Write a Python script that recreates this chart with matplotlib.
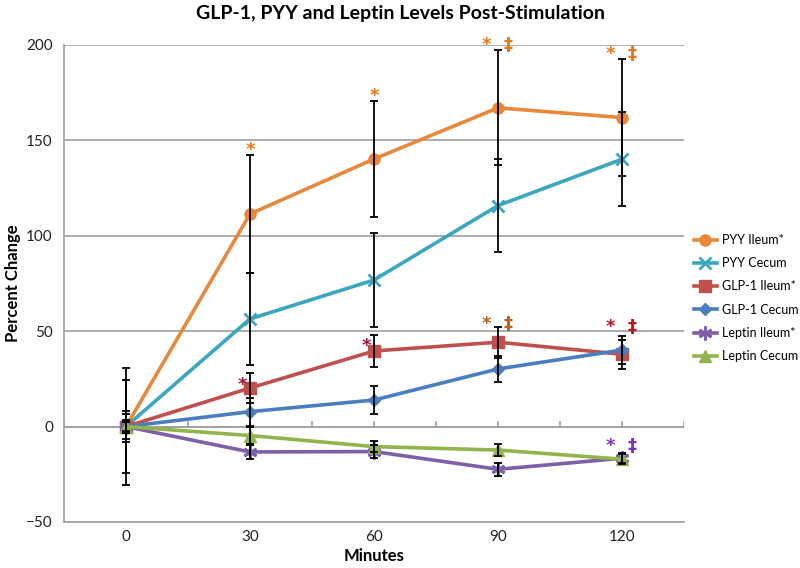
import numpy as np
import matplotlib
matplotlib.use("Agg")
import matplotlib.pyplot as plt

plt.rcParams['font.family'] = ['Lato', 'DejaVu Sans']

minutes = ['0', '30', '60', '90', '120']

pyy_ileum = [0, 111.4, 140.2, 167.0, 161.9]
pyy_ileum_err = [30.6, 31.0, 30.5, 30.2, 30.6]
pyy_cecum = [0, 56.4, 76.8, 115.8, 140.1]
pyy_cecum_err = [24.2, 24.2, 24.8, 24.4, 24.5]
glp_ileum = [0, 20.2, 39.6, 44.2, 37.9]
glp_ileum_err = [7.9, 8.1, 8.3, 8.2, 7.7]
glp_cecum = [0, 7.8, 13.9, 30.2, 40.1]
glp_cecum_err = [6.4, 7.4, 7.4, 7.0, 7.5]
lep_ileum = [0, -13.3, -13.1, -22.4, -16.6]
lep_ileum_err = [3.2, 3.7, 3.5, 3.4, 2.5]
lep_cecum = [0, -4.7, -10.5, -12.3, -17.1]
lep_cecum_err = [2.3, 4.5, 3.0, 3.2, 2.5]

series = [
    ('PYY Ileum*', pyy_ileum, pyy_ileum_err, '#E8883A', 'o', 8),
    ('PYY Cecum', pyy_cecum, pyy_cecum_err, '#3AA6C0', 'x', 8),
    ('GLP-1 Ileum*', glp_ileum, glp_ileum_err, '#C0504D', 's', 8),
    ('GLP-1 Cecum', glp_cecum, glp_cecum_err, '#4A7EBF', 'D', 6),
    ('Leptin Ileum*', lep_ileum, lep_ileum_err, '#7F5FA8', (6, 2, 0), 10),
    ('Leptin Cecum', lep_cecum, lep_cecum_err, '#92B44C', '^', 8),
]

# significance marks: (x index, y value, text, color)
marks = [
    (1, 145, '*', '#E8781A'),
    (2, 173, '*', '#E8781A'),
    (3, 200, '*  ‡', '#E8781A'),
    (4, 195, '*  ‡', '#E8781A'),
    (0.94, 22, '*', '#A0143C'),
    (1.94, 42, '*', '#A0143C'),
    (3, 54, '*  ‡', '#B8601E'),
    (4, 52, '*  ‡', '#B8141E'),
    (4, -10, '*  ‡', '#8030C0'),
]

fig = plt.figure(figsize=(8, 5.68), dpi=100)
ax = fig.add_axes([0.08, 0.081, 0.775, 0.84])
x = np.arange(len(minutes))

for name, vals, errs, col, mk, ms in series:
    ax.plot(x, vals, color=col, lw=2.6, marker=mk, ms=ms, mew=2 if mk in ('x', (6, 2, 0)) else 1,
            label=name, zorder=3)
    ax.errorbar(x, vals, yerr=errs, fmt='none', ecolor='black', elinewidth=1.3,
                capsize=3, capthick=1.3, zorder=4)

for xi, yv, txt, col in marks:
    ax.text(xi, yv, txt, color=col, fontsize=13, fontweight='bold', ha='center', va='center',
            family='DejaVu Sans')

ax.set_xlim(-0.5, 4.5)
ax.set_ylim(-50, 200)
ax.set_yticks(np.arange(-50, 201, 50))
ax.set_xticks(x)
ax.set_xticklabels(minutes)
ax.grid(axis='y', color='#a0a0a0', lw=1.2)
ax.set_axisbelow(True)
ax.tick_params(length=0, labelsize=11, colors='#222222')
ax.tick_params(axis='x', pad=6)
ax.tick_params(axis='y', pad=8)
for s in ['top', 'right']:
    ax.spines[s].set_visible(False)
for s in ['left', 'bottom']:
    ax.spines[s].set_color('#a0a0a0')
    ax.spines[s].set_linewidth(1.2)

# category axis at zero with small upward ticks
ax.axhline(0, color='#a0a0a0', lw=1.2, zorder=1)
for b in np.arange(-0.5, 4.6, 0.5):
    ax.plot([b, b], [0, 2.2], color='#a0a0a0', lw=1.2, zorder=1)

fig.text(374 / 800, 1 - 556 / 568, 'Minutes', fontsize=12, fontweight='bold', ha='center', va='center')
fig.text(13 / 800, 1 - 283 / 568, 'Percent Change', fontsize=12, fontweight='bold', ha='center',
         va='center', rotation=90)
fig.text(0.5, 1 - 13 / 568, 'GLP-1, PYY and Leptin Levels Post-Stimulation', fontsize=14,
         fontweight='bold', ha='center', va='center')

leg = fig.legend(*ax.get_legend_handles_labels(), loc='center left',
                 bbox_to_anchor=(694 / 800, 1 - 298 / 568), frameon=False, fontsize=9.0,
                 handlelength=1.8, handletextpad=0.4, labelspacing=0.9, borderpad=0,
                 borderaxespad=0)

fig.savefig('out.png', dpi=100)
